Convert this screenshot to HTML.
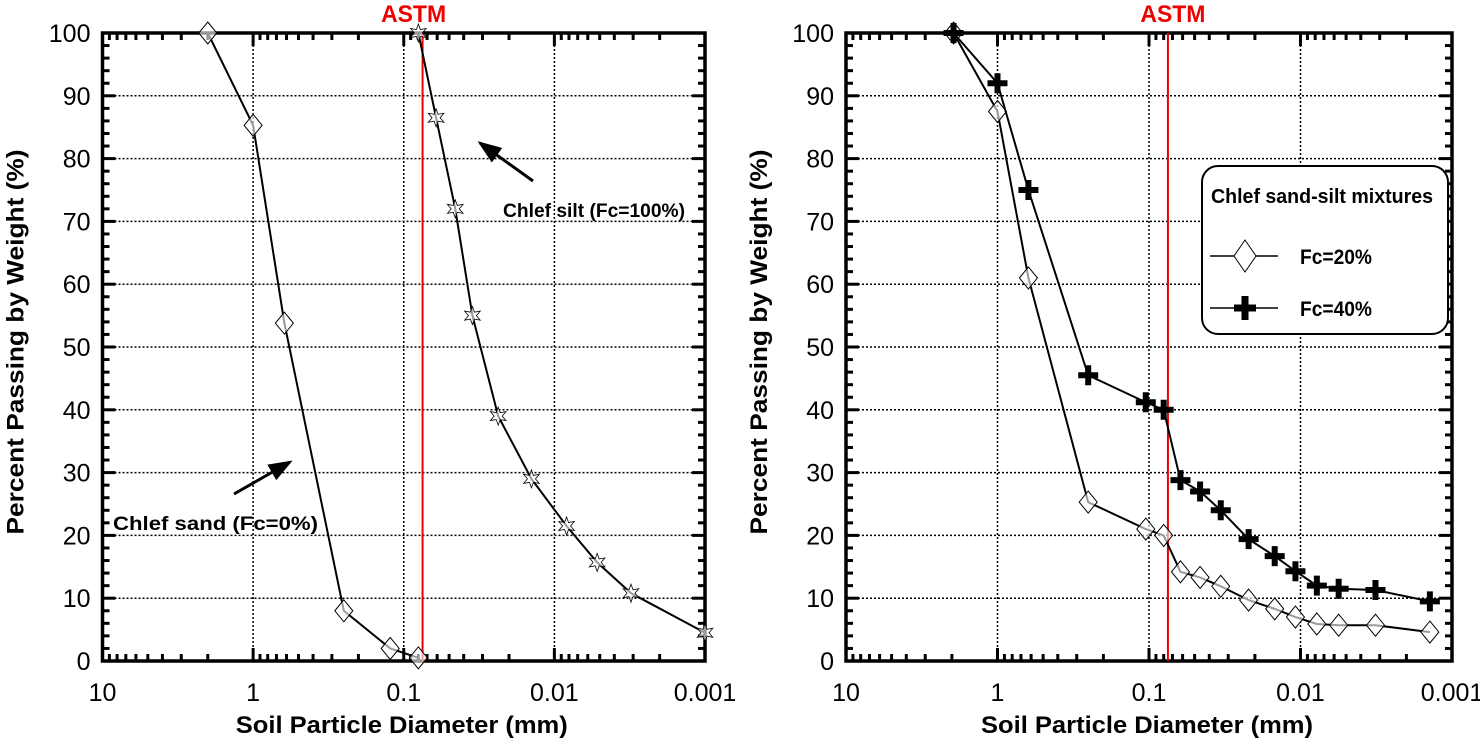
<!DOCTYPE html>
<html><head><meta charset="utf-8"><style>
body{margin:0;background:#fff;}
svg text{font-family:"Liberation Sans",Arial,sans-serif;}
</style></head><body>
<svg id="chart" width="1480" height="740" viewBox="0 0 1480 740" xmlns="http://www.w3.org/2000/svg"></svg>
<script>
const xTickLabels = ["10","1","0.1","0.01","0.001"];
const yTickLabels = [0,10,20,30,40,50,60,70,80,90,100];
const sandD = [2,1,0.62,0.25,0.123,0.08];
const sandP = [100,85.3,53.8,8,2,0.5];
const siltD = [0.08,0.061,0.0455,0.035,0.0236,0.0142,0.0083,0.0052,0.0031,0.001];
const siltP = [100,86.5,72,55,39,29,21.5,15.7,10.8,4.5];
const mixD = [1.95,1,0.625,0.252,0.105,0.08,0.062,0.046,0.0336,0.022,0.0148,0.0108,0.0078,0.0056,0.0032,0.0014];
const fc20P = [100,87.5,61,25.3,21,20,14.2,13.3,11.9,9.7,8.3,7,5.9,5.7,5.7,4.6];
const fc40P = [100,92,75,45.5,41.2,40,28.8,27,24,19.4,16.7,14.3,12,11.5,11.3,9.5];
const astmD = 0.075;

const NS="http://www.w3.org/2000/svg";
const svg=document.getElementById('chart');
function mk(tag,attrs,parent){const e=document.createElementNS(NS,tag);for(const k in attrs)e.setAttribute(k,attrs[k]);(parent||svg).appendChild(e);return e;}

function panel(x0,x1,yTop,yBot,name,astmOff){
  const g=mk('g',{});
  
  
  const dec=(x1-x0)/4;
  const X=d=>x0+(1-Math.log10(d))*dec;
  const Y=p=>yBot-(p/100)*(yBot-yTop);
  for(let i=1;i<4;i++){const l=mk('line',{x1:x0+i*dec,x2:x0+i*dec,y1:yTop,y2:yBot,stroke:'#000','stroke-width':1.5,'stroke-dasharray':'2,2'},g);
    }
  for(let v=10;v<100;v+=10){const l=mk('line',{x1:x0,x2:x1,y1:Y(v),y2:Y(v),stroke:'#000','stroke-width':1.5,'stroke-dasharray':'2,2'},g);
    }
  for(let v=0;v<=100;v+=2){const len=v%10===0?13:7;
    mk('line',{x1:x0,x2:x0+len,y1:Y(v),y2:Y(v),stroke:'#000','stroke-width':3},g);
    mk('line',{x1:x1,x2:x1-len,y1:Y(v),y2:Y(v),stroke:'#000','stroke-width':3},g);}
  for(let k=0;k<4;k++){for(let m=1;m<10;m++){
    const xx=X(Math.pow(10,-k)*m);
    const len=m===1?13:7;
    mk('line',{x1:xx,x2:xx,y1:yBot,y2:yBot-len,stroke:'#000','stroke-width':3},g);
    mk('line',{x1:xx,x2:xx,y1:yTop,y2:yTop+len,stroke:'#000','stroke-width':3},g);}}
  const f=mk('rect',{x:x0,y:yTop,width:x1-x0,height:yBot-yTop,fill:'none',stroke:'#000','stroke-width':3.5},g);
  
  xTickLabels.forEach((t,i)=>{const e=mk('text',{x:x0+i*dec,y:yBot+40,'font-size':25,'text-anchor':'middle'},g);e.textContent=t;
    });
  yTickLabels.forEach(v=>{const e=mk('text',{x:x0-12,y:Y(v)+9,'font-size':25,'text-anchor':'end'},g);e.textContent=v;
    });
  const xt=mk('text',{x:(x0+x1)/2-2,y:733,'font-size':24,'font-weight':'bold','text-anchor':'middle',textLength:332,lengthAdjust:'spacingAndGlyphs'},g);xt.textContent='Soil Particle Diameter (mm)';
  
  const yt=mk('text',{x:0,y:0,'font-size':24,'font-weight':'bold','text-anchor':'middle',textLength:385,lengthAdjust:'spacingAndGlyphs',transform:`translate(${x0-79},${(yTop+yBot)/2-5}) rotate(-90)`},g);yt.textContent='Percent Passing by Weight (%)';
  
  const ax=X(astmD);
  const al=mk('line',{x1:ax,x2:ax,y1:yTop,y2:yBot,stroke:'#e00','stroke-width':2},g);
  
  const at=mk('text',{x:ax+astmOff,y:22,'font-size':24,'font-weight':'bold',fill:'#e00','text-anchor':'middle',textLength:65,lengthAdjust:'spacingAndGlyphs'},g);at.textContent='ASTM';
  
  return {g,X,Y};
}
function series(p,ds,ps,marker,name){
  const g=mk('g',{},p.g);
  
  
  const pts=ds.map((d,i)=>p.X(d)+','+p.Y(ps[i])).join(' ');
  mk('polyline',{points:pts,fill:'none',stroke:'#000','stroke-width':2},g);
  ds.forEach((d,i)=>{const x=p.X(d),y=p.Y(ps[i]);let e;
    if(marker==='diamond')e=mk('polygon',{points:`${x},${y-11} ${x+9},${y} ${x},${y+11} ${x-9},${y}`,fill:'#fff','fill-opacity':0.6,stroke:'#000','stroke-width':1},g);
    else if(marker==='star'){let s='';for(let k=0;k<12;k++){const r=k%2?4:9;const a=k*Math.PI/6-Math.PI/2;s+=(x+r*Math.cos(a))+','+(y+r*Math.sin(a))+' ';}
      e=mk('polygon',{points:s,fill:'#fff','fill-opacity':0.6,stroke:'#000','stroke-width':0.8},g);}
    else e=mk('path',{d:`M${x-10},${y}H${x+10}M${x},${y-10}V${y+10}`,stroke:'#000','stroke-width':6},g);
    });
}
const L=panel(102.5,705,33,661,'left-chart',-9);
series(L,sandD,sandP,'diamond','series-chlef-sand');
series(L,siltD,siltP,'star','series-chlef-silt');
const R=panel(846,1452,33,661,'right-chart',5);
series(R,mixD,fc20P,'diamond','series-fc20');
series(R,mixD,fc40P,'plus','series-fc40');
</script>
<svg style="position:absolute;left:0;top:0" width="1480" height="740">
<defs><marker id="ah" markerWidth="8" markerHeight="6" refX="7" refY="3" orient="auto"><path d="M0,0L8,3L0,6z" fill="#000"/></marker></defs>
<line x1="533" y1="181" x2="480" y2="143" stroke="#000" stroke-width="3" marker-end="url(#ah)"/>
<text x="503" y="217" font-size="19" font-weight="bold" font-family="Liberation Sans, sans-serif" textLength="182" lengthAdjust="spacingAndGlyphs">Chlef silt (Fc=100%)</text>
<line x1="234" y1="494" x2="290" y2="462" stroke="#000" stroke-width="3" marker-end="url(#ah)"/>
<text x="113" y="530" font-size="19" font-weight="bold" font-family="Liberation Sans, sans-serif" textLength="205" lengthAdjust="spacingAndGlyphs">Chlef sand (Fc=0%)</text>
<g font-family="Liberation Sans, sans-serif" font-weight="bold">
<rect x="1202" y="166" width="246" height="168" rx="16" fill="#fff" stroke="#000" stroke-width="2"/>
<text x="1322" y="203" font-size="20" text-anchor="middle" textLength="222" lengthAdjust="spacingAndGlyphs">Chlef sand-silt mixtures</text>
<line x1="1210" y1="256" x2="1278" y2="256" stroke="#000" stroke-width="1.5"/>
<polygon points="1245,240 1256,256 1245,272 1234,256" fill="#fff" stroke="#000"/>
<text x="1300" y="264" font-size="21" textLength="72" lengthAdjust="spacingAndGlyphs">Fc=20%</text>
<line x1="1210" y1="308" x2="1278" y2="308" stroke="#000" stroke-width="1.5"/>
<path d="M1234,308H1256M1245,296V320" stroke="#000" stroke-width="7"/>
<text x="1300" y="316" font-size="21" textLength="72" lengthAdjust="spacingAndGlyphs">Fc=40%</text>
</g>
</svg>
</body></html>
